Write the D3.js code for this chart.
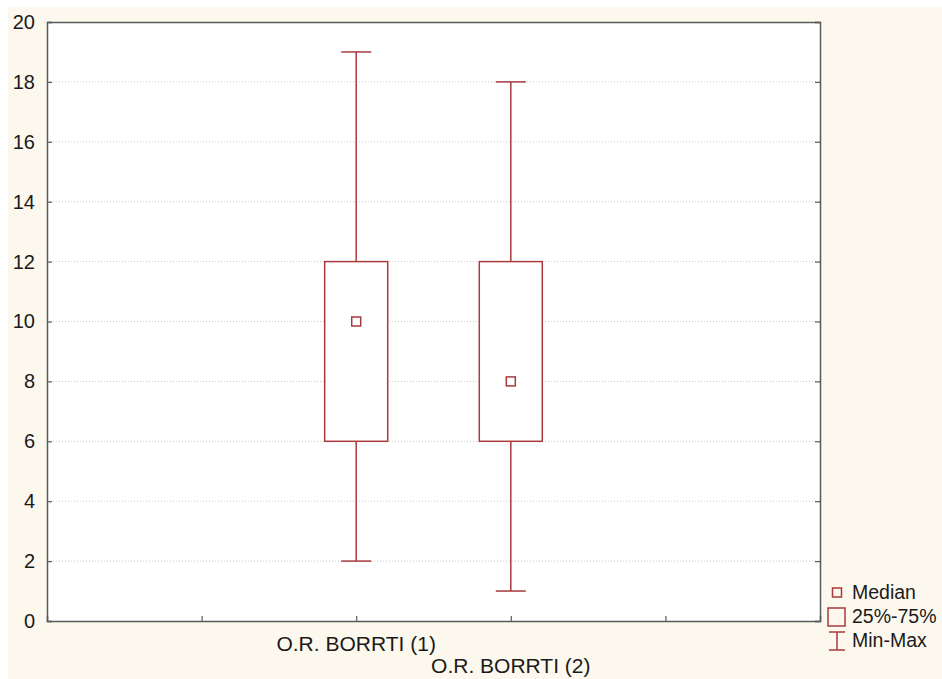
<!DOCTYPE html>
<html>
<head>
<meta charset="utf-8">
<script src="https://cdn.jsdelivr.net/npm/d3@7"></script>
<style>
  body { margin: 0; background: #fff; }
  text { font-family: Arial, "Liberation Sans", sans-serif; }
</style>
</head>
<body>
<div id="vis"></div>
<script>
// box plot data
var categories = ["O.R. BORRTI (1)", "O.R. BORRTI (2)"],
    mins    = [2, 1],
    q1s     = [6, 6],
    medians = [10, 8],
    q3s     = [12, 12],
    maxs    = [19, 18],
    yTicks  = [0, 2, 4, 6, 8, 10, 12, 14, 16, 18, 20],
    legendLabels = ["Median", "25%-75%", "Min-Max"];

var width = 942,
    height = 679,
    margin = { top: 22, right: 122, bottom: 58, left: 47 },
    plotW = width - margin.left - margin.right,
    plotH = height - margin.top - margin.bottom,
    red = "#a83a3e",
    axisCol = "#5a5a5a";

var svg = d3.select("#vis").append("svg")
    .attr("width", width)
    .attr("height", height);

// cream page background
svg.append("rect")
    .attr("x", 8).attr("y", 7)
    .attr("width", width - 8).attr("height", height - 7)
    .attr("fill", "#fdf8ee");

var g = svg.append("g")
    .attr("transform", "translate(" + margin.left + "," + margin.top + ")");

g.append("rect")
    .attr("width", plotW).attr("height", plotH)
    .attr("fill", "#fff");

var y = d3.scaleLinear().domain([0, 20]).range([plotH, 0]);
// categories sit on positions 2 and 3 of a 0..5 axis
var x = d3.scaleLinear().domain([0, 5]).range([0, plotW]);

// dotted grid
g.selectAll(".grid")
    .data(yTicks.filter(function(d) { return d > 0 && d < 20; }))
    .enter().append("line")
    .attr("x1", 0).attr("x2", plotW)
    .attr("y1", function(d) { return y(d); })
    .attr("y2", function(d) { return y(d); })
    .attr("stroke", "#c8c8c8")
    .attr("stroke-dasharray", "1,2");

// axes
var leftAx = g.append("g")
    .call(d3.axisLeft(y).tickValues(yTicks).tickSize(-5).tickPadding(12));
var rightAx = g.append("g")
    .attr("transform", "translate(" + plotW + ",0)")
    .call(d3.axisRight(y).tickValues(yTicks).tickSize(-5).tickFormat(""));
var bottomAx = g.append("g")
    .attr("transform", "translate(0," + plotH + ")")
    .call(d3.axisBottom(x).tickValues([1, 2, 3, 4]).tickSize(-5).tickFormat(""));
var topAx = g.append("g")
    .call(d3.axisTop(x).tickValues([]).tickSize(0));

[leftAx, rightAx, bottomAx, topAx].forEach(function(a) {
  a.select(".domain").attr("stroke", axisCol).attr("stroke-width", 1.5);
  a.selectAll(".tick line").attr("stroke", axisCol).attr("stroke-width", 1.2);
});
leftAx.selectAll(".tick text")
    .attr("font-size", 20).attr("fill", "#1a1a1a");

// category labels, staggered
g.selectAll(".cat")
    .data(categories)
    .enter().append("text")
    .attr("x", function(d, i) { return x(i + 2); })
    .attr("y", function(d, i) { return plotH + 30 + i * 22; })
    .attr("text-anchor", "middle")
    .attr("font-size", 21)
    .attr("fill", "#1a1a1a")
    .text(function(d) { return d; });

// boxes
var boxW = 63, capW = 30, medS = 9;
var boxes = g.selectAll(".box")
    .data(categories)
    .enter().append("g")
    .attr("transform", function(d, i) { return "translate(" + x(i + 2) + ",0)"; });

boxes.append("line")
    .attr("y1", function(d, i) { return y(maxs[i]); })
    .attr("y2", function(d, i) { return y(q3s[i]); })
    .attr("stroke", red).attr("stroke-width", 1.5);
boxes.append("line")
    .attr("y1", function(d, i) { return y(q1s[i]); })
    .attr("y2", function(d, i) { return y(mins[i]); })
    .attr("stroke", red).attr("stroke-width", 1.5);
boxes.append("line")
    .attr("x1", -capW / 2).attr("x2", capW / 2)
    .attr("y1", function(d, i) { return y(maxs[i]); })
    .attr("y2", function(d, i) { return y(maxs[i]); })
    .attr("stroke", red).attr("stroke-width", 1.5);
boxes.append("line")
    .attr("x1", -capW / 2).attr("x2", capW / 2)
    .attr("y1", function(d, i) { return y(mins[i]); })
    .attr("y2", function(d, i) { return y(mins[i]); })
    .attr("stroke", red).attr("stroke-width", 1.5);
boxes.append("rect")
    .attr("x", -boxW / 2)
    .attr("y", function(d, i) { return y(q3s[i]); })
    .attr("width", boxW)
    .attr("height", function(d, i) { return y(q1s[i]) - y(q3s[i]); })
    .attr("fill", "#fff")
    .attr("stroke", red).attr("stroke-width", 1.5);
boxes.append("rect")
    .attr("x", -medS / 2)
    .attr("y", function(d, i) { return y(medians[i]) - medS / 2; })
    .attr("width", medS).attr("height", medS)
    .attr("fill", "#fff")
    .attr("stroke", red).attr("stroke-width", 1.5);

// legend
var lg = svg.append("g").attr("transform", "translate(837,0)");
lg.append("rect")
    .attr("x", -4.5).attr("y", 588).attr("width", 9).attr("height", 9)
    .attr("fill", "none").attr("stroke", red).attr("stroke-width", 1.5);
lg.append("rect")
    .attr("x", -9).attr("y", 608).attr("width", 17).attr("height", 18)
    .attr("fill", "none").attr("stroke", red).attr("stroke-width", 1.5);
lg.append("path")
    .attr("d", "M-8,632H8M0,632V650M-8,650H8")
    .attr("fill", "none").attr("stroke", red).attr("stroke-width", 1.5);
lg.selectAll(".lt")
    .data(legendLabels)
    .enter().append("text")
    .attr("x", 15)
    .attr("y", function(d, i) { return 599 + i * 24; })
    .attr("font-size", 19.5)
    .attr("fill", "#1a1a1a")
    .text(function(d) { return d; });
</script>
</body>
</html>
